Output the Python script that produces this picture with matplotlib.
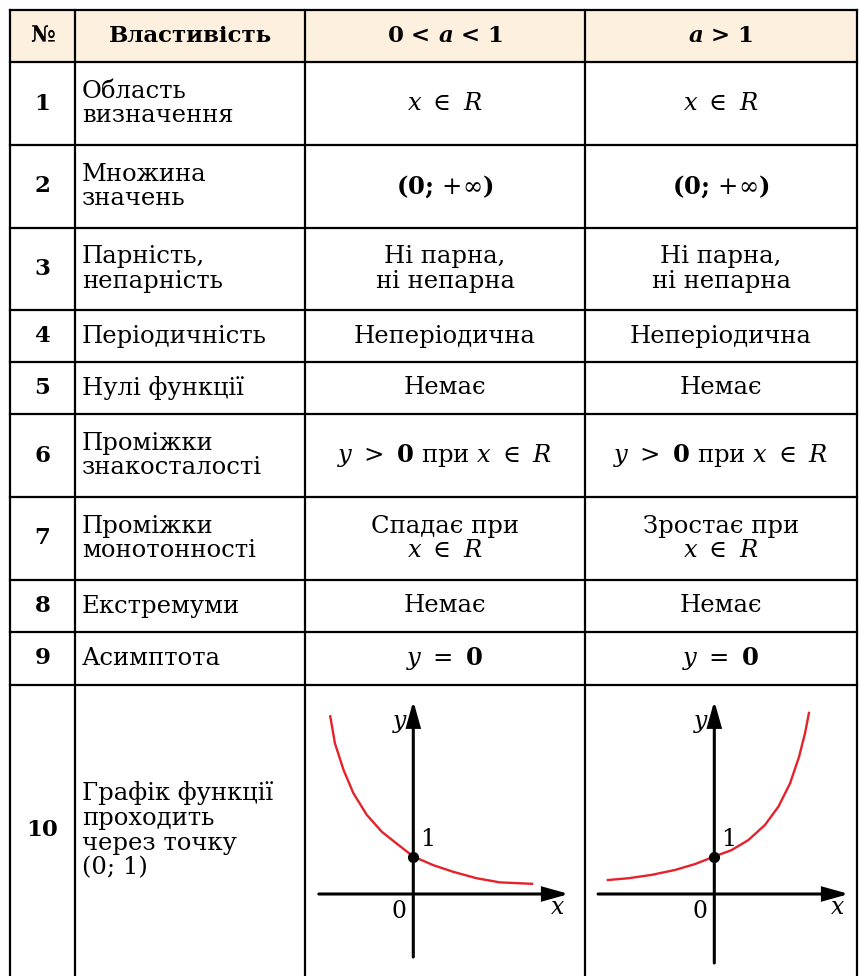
import matplotlib
matplotlib.use('Agg')
import matplotlib.pyplot as plt
from matplotlib.patches import Rectangle, FancyArrowPatch

plt.rcParams['font.family'] = ['DejaVu Serif']
plt.rcParams['mathtext.fontset'] = 'custom'
plt.rcParams['mathtext.rm'] = 'DejaVu Serif'
plt.rcParams['mathtext.it'] = 'DejaVu Serif:italic'
plt.rcParams['mathtext.bf'] = 'DejaVu Serif:bold'
plt.rcParams['mathtext.bfit'] = 'DejaVu Serif:italic:bold'

# ---------------- data ----------------
headers = ['№', 'Властивість', r'0 < $\mathbfit{a}$ < 1', r'$\mathbfit{a}$ > 1']
numbers = ['1', '2', '3', '4', '5', '6', '7', '8', '9', '10']
properties = ['Область\nвизначення', 'Множина\nзначень', 'Парність,\nнепарність',
              'Періодичність', 'Нулі функції', 'Проміжки\nзнакосталості',
              'Проміжки\nмонотонності', 'Екстремуми', 'Асимптота',
              'Графік функції\nпроходить\nчерез точку\n(0; 1)']
decreasing = [r'$x\ \in\ R$', r'(0; $+\infty$)', 'Ні парна,\nні непарна', 'Неперіодична',
              'Немає', r'$y\ >\ \mathbf{0}$ при $x\ \in\ R$', 'Спадає при\n$x\\ \\in\\ R$',
              'Немає', r'$y\ =\ \mathbf{0}$']
increasing = [r'$x\ \in\ R$', r'(0; $+\infty$)', 'Ні парна,\nні непарна', 'Неперіодична',
              'Немає', r'$y\ >\ \mathbf{0}$ при $x\ \in\ R$', 'Зростає при\n$x\\ \\in\\ R$',
              'Немає', r'$y\ =\ \mathbf{0}$']
bold_rows = [False, True, False, False, False, False, False, False, False]

# graph curves (units: 1 = y-value at point (0; 1))
dec_x = [-2.22, -2.09, -1.86, -1.60, -1.24, -0.84, -0.40, 0.0, 0.53, 1.07, 1.69, 2.31, 3.20]
dec_y = [4.77, 4.02, 3.31, 2.69, 2.11, 1.66, 1.31, 1.0, 0.77, 0.59, 0.42, 0.31, 0.27]
inc_x = [-2.87, -2.29, -1.67, -1.05, -0.51, 0.0, 0.46, 0.91, 1.35, 1.71, 2.02, 2.26, 2.42, 2.53]
inc_y = [0.37, 0.42, 0.51, 0.64, 0.80, 1.0, 1.17, 1.44, 1.84, 2.33, 2.95, 3.66, 4.29, 4.86]
point_x = [0]
point_y = [1]

# ---------------- layout ----------------
W, H = 859, 976
fig = plt.figure(figsize=(W / 100, H / 100), dpi=100)
ax = fig.add_axes([0, 0, 1, 1])
ax.set_xlim(0, W)
ax.set_ylim(H, 0)
ax.axis('off')

col_edges = [10, 75, 305, 585, 857]
row_edges = [10, 62, 145, 228, 310, 362, 414, 497, 580, 632, 685, 976]
LW = 1.6
FS = 17.5
FSH = 16.5
LS = 1.1

ax.add_patch(Rectangle((col_edges[0], row_edges[0]), col_edges[-1] - col_edges[0],
                       row_edges[1] - row_edges[0], facecolor='#FDF0DF', edgecolor='none'))
for y in row_edges[:-1]:
    ax.plot([col_edges[0], col_edges[-1]], [y, y], color='black', lw=LW, solid_capstyle='projecting')
for x in col_edges:
    ax.plot([x, x], [row_edges[0], row_edges[-1]], color='black', lw=LW, solid_capstyle='projecting')

def cx(i):
    return (col_edges[i] + col_edges[i + 1]) / 2

def cy(j):
    return (row_edges[j] + row_edges[j + 1]) / 2

# header
for i, h in enumerate(headers):
    ax.text(cx(i), cy(0), h, ha='center', va='center', fontsize=FSH, fontweight='bold')

for r in range(10):
    yc = cy(r + 1)
    ax.text(cx(0), yc, numbers[r], ha='center', va='center', fontsize=16.5, fontweight='bold')
    ax.text(col_edges[1] + 7, yc, properties[r], ha='left', va='center', fontsize=FS,
            linespacing=LS)
    if r < 9:
        fw = 'bold' if bold_rows[r] else 'normal'
        ax.text(cx(2), yc, decreasing[r], ha='center', va='center', fontsize=FS,
                fontweight=fw, linespacing=LS)
        ax.text(cx(3), yc, increasing[r], ha='center', va='center', fontsize=FS,
                fontweight=fw, linespacing=LS)

# graphs
S = 37.5
def graph(col, ox, oy, xs, ys, xmin, xmax, ymin, ymax):
    left, right = col_edges[col], col_edges[col + 1]
    top, bottom = row_edges[10], row_edges[11]
    g = fig.add_axes([left / W, 1 - bottom / H, (right - left) / W, (bottom - top) / H])
    g.set_xlim((left - ox) / S, (right - ox) / S)
    g.set_ylim((oy - bottom) / S, (oy - top) / S)
    g.axis('off')
    for (a, b) in [((xmin, 0), (xmax, 0)), ((0, ymin), (0, ymax))]:
        g.add_patch(FancyArrowPatch(a, b, arrowstyle='-|>,head_length=1.5,head_width=0.42',
                                    mutation_scale=10, lw=2.2, color='black',
                                    shrinkA=0, shrinkB=0, joinstyle='miter'))
    g.plot(xs, ys, color='#E5222B', lw=1.7, solid_capstyle='butt', solid_joinstyle='round')
    g.plot(point_x, point_y, 'o', color='black', ms=7, zorder=5)
    g.text(-0.36, 4.6, 'y', style='italic', fontsize=17, ha='center', va='center')
    g.text(0.38, 1.45, '1', fontsize=17, ha='center', va='center')
    g.text(-0.38, -0.48, '0', fontsize=17, ha='center', va='center')
    g.text(xmax - 0.3, -0.37, 'x', style='italic', fontsize=17, ha='center', va='center')

graph(2, 413.3, 894, dec_x, dec_y, -2.52, 4.15, -1.68, 5.15)
graph(3, 714.3, 894, inc_x, inc_y, -3.10, 3.59, -1.84, 5.15)

fig.savefig('out.png', dpi=100)
